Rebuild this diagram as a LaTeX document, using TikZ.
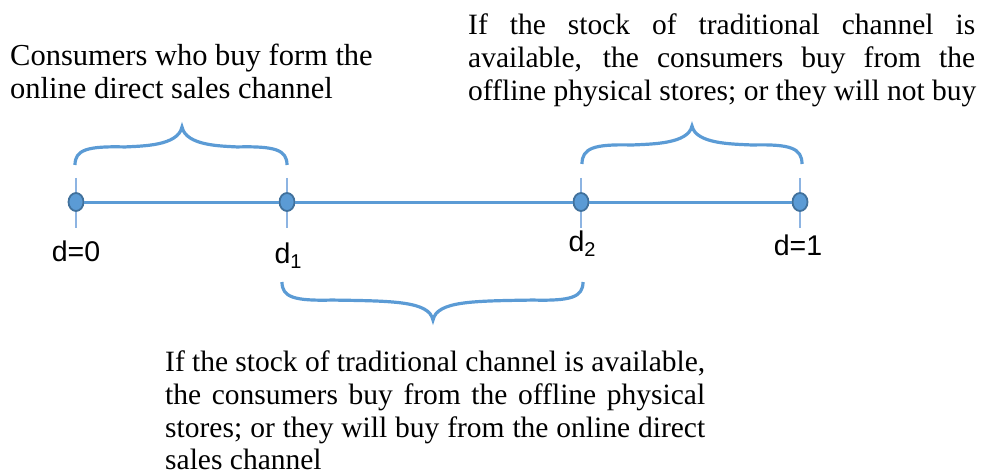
\documentclass[tikz,border=0pt]{standalone}
\usepackage{fontspec}
\setmainfont{Liberation Serif}
\newfontfamily\arialf{Liberation Sans}
\usetikzlibrary{shapes.geometric,calc}
\definecolor{lblue}{HTML}{5B9BD5}
\definecolor{dblue}{HTML}{41719C}
\definecolor{tblue}{HTML}{8DB4E2}
\newcommand\cbrace[6]{%
  \draw[curlyb] (#1,#3) .. controls (#1,{#4+0.2*(#3-#4)}) and ({#1+12},#4) .. ({#1+50},{#4+0.05*(#3-#4)})
    .. controls ({#5-40},#4) and ({#5-4},#4) .. (#5,#6)
    .. controls ({#5+4},#4) and ({#5+40},#4) .. ({#2-50},{#4+0.05*(#3-#4)})
    .. controls ({#2-12},#4) and (#2,{#4+0.2*(#3-#4)}) .. (#2,#3);}
\newcommand\subd[1]{d\raisebox{-5.5pt}{\fontsize{20}{20}\selectfont #1}}
\begin{document}
\begin{tikzpicture}[x=1pt,y=-1pt,
  txt/.style={anchor=base west,inner sep=0,font=\fontsize{29.5}{33}\selectfont},
  lab/.style={anchor=base,inner sep=0,font=\arialf\fontsize{28.5}{28.5}\selectfont},
  dot/.style={ellipse,fill=lblue,draw=dblue,line width=1.8pt,minimum width=15pt,minimum height=18pt,inner sep=0},
  axis/.style={lblue,line width=3pt},
  tick/.style={tblue,line width=1.8pt},
  curlyb/.style={lblue,line width=3.2pt}]
\useasboundingbox (0,0) rectangle (983,476);

% positions of the points
\coordinate (c0) at (76,202);
\coordinate (c1) at (287,202);
\coordinate (c2) at (581,202);
\coordinate (c3) at (800,202);

% ticks
\foreach \c in {c0,c1,c2,c3}{
  \draw[tick] ($(\c)+(0,-24)$) -- ($(\c)+(0,26)$);
}

% dots
\node[dot] (p0) at (c0) {};
\node[dot] (p1) at (c1) {};
\node[dot] (p2) at (c2) {};
\node[dot] (p3) at (c3) {};

% axis
\draw[axis] (p0) -- (p1);
\draw[axis] (p1) -- (p2);
\draw[axis] (p2) -- (p3);

% braces
\cbrace{75}{287}{165}{146}{182}{127}
\cbrace{582}{802}{164}{144}{692}{126}
\cbrace{282}{583}{282}{301}{433}{320}

% labels
\node[lab] (t0) at (76,261) {d=0};
\node[lab] (t1) at (288,263) {\subd{1}};
\node[lab] (t2) at (582,251) {\subd{2}};
\node[lab] (t3) at (798,255) {d=1};

% texts
\node[txt,font=\fontsize{30.5}{33}\selectfont] (l1) at (10,66) {Consumers who buy form the};
\node[txt,font=\fontsize{30.5}{33}\selectfont] (l2) at (10,99) {online direct sales channel};
\node[txt] (r1) at (468,35) {\makebox[507pt][s]{If the stock of traditional channel is}};
\node[txt] (r2) at (468,68) {\makebox[507pt][s]{available, the consumers buy from the}};
\node[txt] (r3) at (468,101) {offline physical stores; or they will not buy};
\node[txt] (b1) at (165,371) {\makebox[540pt][s]{If the stock of traditional channel is available,}};
\node[txt] (b2) at (165,404) {\makebox[540pt][s]{the consumers buy from the offline physical}};
\node[txt] (b3) at (165,437) {\makebox[540pt][s]{stores; or they will buy from the online direct}};
\node[txt] (b4) at (165,469) {sales channel};
\end{tikzpicture}
\end{document}
